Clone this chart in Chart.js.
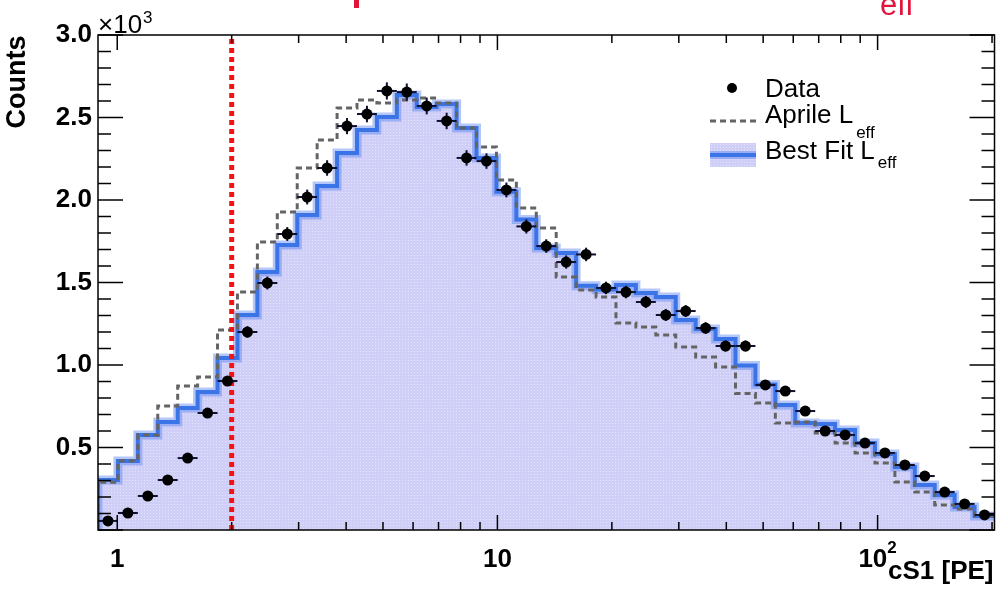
<!DOCTYPE html>
<html>
<head>
<meta charset="utf-8">
<script src="https://cdn.jsdelivr.net/npm/chart.js@4.4.1/dist/chart.umd.min.js"></script>
<style>
  html, body { margin: 0; padding: 0; background: #ffffff; }
  #wrap { width: 1000px; height: 589px; }
</style>
</head>
<body>
<div id="wrap"><canvas id="cs1-chart" width="1000" height="589"></canvas></div>
<script>
// ============= DATA =============

// log-spaced cS1 binning, 45 bins over the axis range
const X_MIN = 0.89;
const X_MAX = 203;
const N_BINS = 45;
const binEdges = [];
for (let i = 0; i <= N_BINS; i++) {
  binEdges.push(X_MIN * Math.pow(X_MAX / X_MIN, i / N_BINS));
}

// measured counts per bin
const dataCounts = [
  55, 103, 206, 303, 436, 709, 903, 1200, 1497, 1794,
  2018, 2194, 2448, 2521, 2661, 2654, 2570, 2479, 2255, 2236,
  2061, 1840, 1721, 1624, 1670, 1467, 1442, 1382, 1303, 1327,
  1224, 1115, 1115, 879, 842, 721, 600, 576, 527, 467,
  394, 327, 230, 158, 91
];
const dataErrors = [
  7, 10, 14, 17, 21, 27, 30, 35, 39, 42,
  45, 47, 49, 50, 52, 52, 51, 50, 47, 47,
  45, 43, 41, 40, 41, 38, 38, 37, 36, 36,
  35, 33, 33, 30, 29, 27, 24, 24, 23, 22,
  20, 18, 15, 13, 10
];

// simulated spectrum with the best fit Leff
const bestFitCounts = [
  303, 418, 576, 655, 739, 836, 1042, 1303, 1564, 1727,
  1909, 2085, 2285, 2424, 2503, 2636, 2564, 2582, 2436, 2255,
  2050, 1882, 1709, 1679, 1480, 1458, 1485, 1436, 1412, 1273,
  1218, 1158, 997, 882, 758, 648, 642, 606, 527, 461,
  382, 273, 212, 139, 85
];

// simulated spectrum with the Aprile Leff
const aprileCounts = [
  290, 420, 576, 751, 873, 927, 1212, 1442, 1745, 1927,
  2194, 2364, 2557, 2606, 2588, 2606, 2618, 2588, 2436, 2321,
  2121, 1952, 1830, 1533, 1455, 1412, 1255, 1230, 1182, 1109,
  1048, 988, 827, 770, 648, 655, 588, 527, 467, 406,
  291, 230, 152, 127, 85
];

const thresholdPE = 2;

const xMajorTicks = [1, 10, 100];
const xMinorTicks = [2, 3, 4, 5, 6, 7, 8, 9, 20, 30, 40, 50, 60, 70, 80, 90, 200];
const Y_MAX = 3000;
const Y_MAJOR = 500;
const Y_MINOR = 100;

const FONT = "'Liberation Sans', Arial, Helvetica, sans-serif";

// ============= HELPERS =============

// histogram outline: two corner points per bin
function histogramPoints(counts) {
  const pts = [{ x: binEdges[0], y: 0 }];
  counts.forEach((c, i) => {
    pts.push({ x: binEdges[i], y: c });
    pts.push({ x: binEdges[i + 1], y: c });
  });
  return pts;
}

function binCenters() {
  return dataCounts.map((c, i) => ({ x: Math.sqrt(binEdges[i] * binEdges[i + 1]), y: c }));
}

const canvas = document.getElementById('cs1-chart');
const mainCtx = canvas.getContext('2d');

// lavender fill with a fine dotted texture
function makeFillPattern() {
  const tile = document.createElement('canvas');
  tile.width = 3;
  tile.height = 3;
  const c = tile.getContext('2d');
  c.fillStyle = 'rgb(206,206,247)';
  c.fillRect(0, 0, 3, 3);
  c.fillStyle = 'rgb(226,226,252)';
  c.fillRect(0, 0, 1, 1);
  return mainCtx.createPattern(tile, 'repeat');
}
const fillPattern = makeFillPattern();

function strokeLine(ctx, x1, y1, x2, y2) {
  ctx.beginPath();
  ctx.moveTo(x1, y1);
  ctx.lineTo(x2, y2);
  ctx.stroke();
}

// ============= PLUGINS =============

// error bars drawn just before the data markers
const errorBars = {
  id: 'errorBars',
  beforeDatasetDraw(chart, args) {
    if (chart.data.datasets[args.index].label !== 'Data') return;
    const { ctx, scales: { x, y } } = chart;
    ctx.save();
    ctx.strokeStyle = '#101030';
    ctx.lineWidth = 2;
    dataCounts.forEach((c, i) => {
      const py = y.getPixelForValue(c);
      const cx = x.getPixelForValue(Math.sqrt(binEdges[i] * binEdges[i + 1]));
      strokeLine(ctx, x.getPixelForValue(binEdges[i]), py, x.getPixelForValue(binEdges[i + 1]), py);
      strokeLine(ctx, cx, y.getPixelForValue(c - dataErrors[i]), cx, y.getPixelForValue(c + dataErrors[i]));
    });
    ctx.restore();
  }
};

// frame with inward ticks on all four sides
const frameAndTicks = {
  id: 'frameAndTicks',
  afterDatasetsDraw(chart) {
    const { ctx, chartArea: a, scales: { x, y } } = chart;
    ctx.save();
    ctx.strokeStyle = '#000';
    ctx.lineWidth = 1.5;
    ctx.strokeRect(a.left, a.top, a.right - a.left, a.bottom - a.top);

    for (let v = 0; v <= Y_MAX; v += Y_MINOR) {
      const py = y.getPixelForValue(v);
      const len = v % Y_MAJOR === 0 ? 25 : 13;
      strokeLine(ctx, a.left, py, a.left + len, py);
      strokeLine(ctx, a.right, py, a.right - len, py);
    }
    const xTick = (v, len) => {
      const px = x.getPixelForValue(v);
      strokeLine(ctx, px, a.top, px, a.top + len);
      strokeLine(ctx, px, a.bottom, px, a.bottom - len);
    };
    xMajorTicks.forEach(v => xTick(v, 15));
    xMinorTicks.forEach(v => xTick(v, 8));
    ctx.restore();
  }
};

// axis labels, titles, exponent and legend
const annotations = {
  id: 'annotations',
  afterDraw(chart) {
    const { ctx, chartArea: a, scales: { x } } = chart;
    ctx.save();
    ctx.fillStyle = '#000';
    ctx.textBaseline = 'alphabetic';

    // x tick labels
    ctx.font = `bold 26px ${FONT}`;
    ctx.textAlign = 'center';
    ctx.fillText('1', x.getPixelForValue(1), 567);
    ctx.fillText('10', x.getPixelForValue(10), 567);
    const base = '10';
    const bw = ctx.measureText(base).width;
    ctx.font = `bold 17px ${FONT}`;
    const sw = ctx.measureText('2').width;
    const start = x.getPixelForValue(100) - (bw + sw) / 2;
    ctx.textAlign = 'left';
    ctx.fillText('2', start + bw, 553);
    ctx.font = `bold 26px ${FONT}`;
    ctx.fillText(base, start, 567);

    // x title
    ctx.textAlign = 'right';
    ctx.fillText('cS1 [PE]', a.right - 1, 579);

    // y title
    ctx.save();
    ctx.font = `bold 27px ${FONT}`;
    ctx.translate(25, 82);
    ctx.rotate(-Math.PI / 2);
    ctx.textAlign = 'center';
    ctx.fillText('Counts', 0, 0);
    ctx.restore();

    // y exponent
    ctx.textAlign = 'left';
    ctx.font = `26px ${FONT}`;
    ctx.fillText('\u00d710', a.left, 33);
    const ew = ctx.measureText('\u00d710').width;
    ctx.font = `17px ${FONT}`;
    ctx.fillText('3', a.left + ew + 1, 23);

    // clipped title pieces above the frame
    ctx.fillStyle = 'rgb(225,20,60)';
    ctx.fillRect(354, 0, 5, 8);
    ctx.font = `31px ${FONT}`;
    ctx.fillText('eff', 880, 15);

    // legend
    ctx.fillStyle = '#000';
    ctx.beginPath();
    ctx.arc(732, 88, 5, 0, Math.PI * 2);
    ctx.fill();
    ctx.font = `26px ${FONT}`;
    ctx.fillText('Data', 765, 97);

    ctx.strokeStyle = 'rgb(100,100,100)';
    ctx.lineWidth = 3;
    ctx.setLineDash([6, 4]);
    strokeLine(ctx, 710, 121, 756, 121);
    ctx.setLineDash([]);
    ctx.fillText('Aprile L', 765, 123);
    const aw = ctx.measureText('Aprile L').width;

    ctx.fillStyle = fillPattern;
    ctx.fillRect(710, 143, 46, 24);
    ctx.strokeStyle = 'rgba(90,130,240,0.45)';
    ctx.lineWidth = 8;
    strokeLine(ctx, 710, 155, 756, 155);
    ctx.strokeStyle = '#3a74e6';
    ctx.lineWidth = 4;
    strokeLine(ctx, 710, 155, 756, 155);
    ctx.fillStyle = '#000';
    ctx.fillText('Best Fit L', 765, 159);
    const bfw = ctx.measureText('Best Fit L').width;

    ctx.font = `17px ${FONT}`;
    ctx.fillText('eff', 765 + aw + 3, 138);
    ctx.fillText('eff', 765 + bfw + 3, 168);
    ctx.restore();
  }
};

// ============= CHART =============

const cs1Chart = new Chart(mainCtx, {
  type: 'line',
  data: {
    datasets: [
      {
        label: 'Data',
        data: binCenters(),
        showLine: false,
        pointRadius: 5.5,
        pointBackgroundColor: '#000',
        pointBorderWidth: 0,
        order: 0
      },
      {
        label: 'threshold',
        data: [{ x: thresholdPE, y: 0 }, { x: thresholdPE, y: Y_MAX }],
        borderColor: 'rgb(240,20,20)',
        borderWidth: 5,
        borderDash: [5, 4],
        pointRadius: 0,
        order: 1
      },
      {
        label: 'Aprile Leff',
        data: histogramPoints(aprileCounts),
        borderColor: 'rgb(100,100,100)',
        borderWidth: 3,
        borderDash: [6, 4],
        pointRadius: 0,
        fill: false,
        order: 2
      },
      {
        label: 'Best Fit Leff',
        data: histogramPoints(bestFitCounts),
        borderColor: '#3a74e6',
        borderWidth: 4,
        pointRadius: 0,
        fill: false,
        order: 3
      },
      {
        label: 'Best Fit band',
        data: histogramPoints(bestFitCounts),
        borderColor: 'rgba(90,130,240,0.45)',
        borderWidth: 9,
        pointRadius: 0,
        fill: false,
        order: 4
      },
      {
        label: 'Best Fit fill',
        data: histogramPoints(bestFitCounts),
        borderWidth: 0,
        borderColor: 'rgba(0,0,0,0)',
        backgroundColor: fillPattern,
        pointRadius: 0,
        fill: 'origin',
        order: 5
      }
    ]
  },
  options: {
    responsive: false,
    animation: false,
    events: [],
    layout: {
      padding: { top: 35, right: 2, left: 0, bottom: 0 }
    },
    plugins: {
      legend: { display: false },
      tooltip: { enabled: false }
    },
    scales: {
      x: {
        type: 'logarithmic',
        min: X_MIN,
        max: X_MAX,
        grid: { display: false, drawTicks: false },
        border: { display: false },
        ticks: { display: false },
        afterFit: scale => { scale.height = 59; }
      },
      y: {
        type: 'linear',
        min: 0,
        max: Y_MAX,
        grid: { display: false, drawTicks: false },
        border: { display: false },
        ticks: {
          stepSize: Y_MAJOR,
          padding: 6,
          color: '#000',
          font: { family: FONT, size: 26, weight: 'bold' },
          callback: v => (v === 0 ? '' : (v / 1000).toFixed(1))
        },
        afterFit: scale => { scale.width = 98; }
      }
    }
  },
  plugins: [errorBars, frameAndTicks, annotations]
});
</script>
</body>
</html>
